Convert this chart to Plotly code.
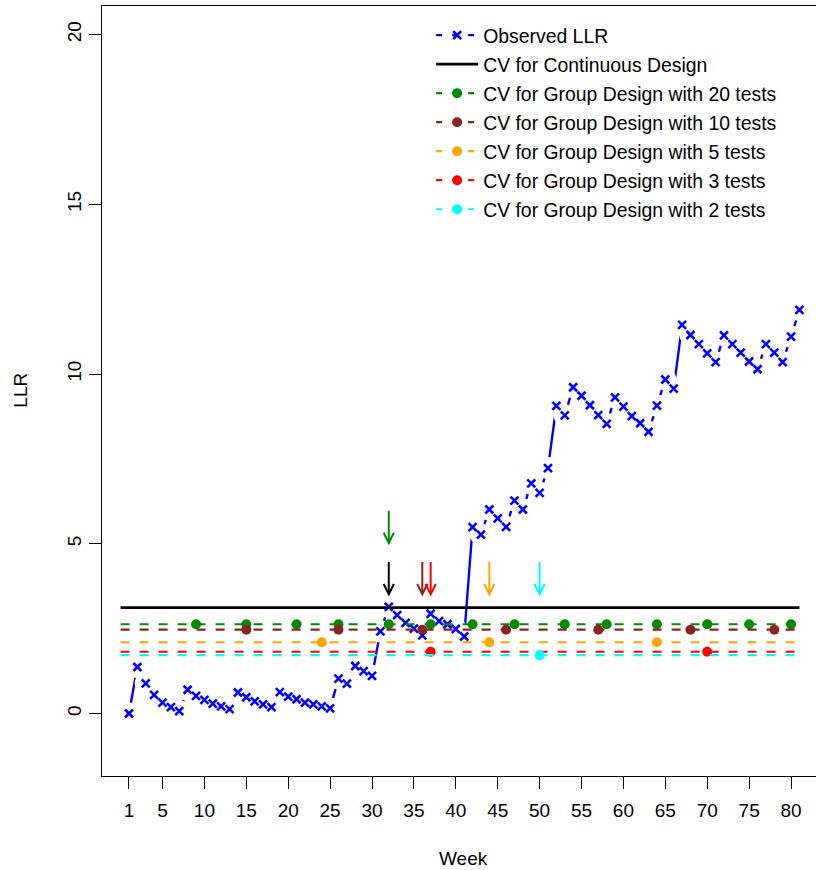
import plotly.graph_objects as go

weeks = list(range(1, 82))
llr = [0.00, 1.37, 0.89, 0.55, 0.32, 0.19, 0.07, 0.70, 0.52, 0.40,
       0.29, 0.21, 0.13, 0.62, 0.48, 0.36, 0.27, 0.19, 0.63, 0.50,
       0.42, 0.32, 0.27, 0.21, 0.15, 1.03, 0.88, 1.40, 1.25, 1.11,
       2.42, 3.14, 2.90, 2.67, 2.50, 2.30, 2.94, 2.72, 2.63, 2.49,
       2.27, 5.49, 5.27, 6.01, 5.75, 5.50, 6.27, 6.01, 6.78, 6.50,
       7.23, 9.06, 8.78, 9.61, 9.36, 9.08, 8.79, 8.53, 9.31, 9.04,
       8.76, 8.55, 8.30, 9.07, 9.84, 9.57, 11.45, 11.15, 10.88, 10.61,
       10.35, 11.14, 10.88, 10.63, 10.37, 10.14, 10.88, 10.63, 10.35, 11.10,
       11.89]

cv_span = [0, 81]
cv_continuous = 3.12

group_names = ["CV for Group Design with 20 tests", "CV for Group Design with 10 tests",
               "CV for Group Design with 5 tests", "CV for Group Design with 3 tests",
               "CV for Group Design with 2 tests"]
group_cv = [2.63, 2.47, 2.10, 1.82, 1.72]
group_weeks = [
    [9, 15, 21, 26, 32, 37, 42, 47, 53, 58, 64, 70, 75, 80],
    [15, 26, 36, 46, 57, 68, 78],
    [24, 44, 64],
    [37, 70],
    [50],
]
group_colors = ["#008B00", "#8B2323", "#FFA500", "#FF0000", "#00FFFF"]

# arrows: (week, tail, tip, color)
arrow_weeks = [32, 32, 36, 37, 44, 50]
arrow_tail = [6.02, 4.51, 4.51, 4.51, 4.51, 4.51]
arrow_tip = [4.96, 3.45, 3.45, 3.45, 3.45, 3.45]
arrow_colors = ["#008B00", "#000000", "#8B2323", "#FF0000", "#FFA500", "#00FFFF"]

x_ticks = [1, 5, 10, 15, 20, 25, 30, 35, 40, 45, 50, 55, 60, 65, 70, 75, 80]
y_ticks = [0, 5, 10, 15, 20]

BLUE = "#0000FF"
FONT = "Liberation Sans, Arial, sans-serif"

fig = go.Figure()

# observed LLR: line, white gaps around points (R type="b"), then x markers
fig.add_trace(go.Scatter(x=weeks, y=llr, mode="lines", line=dict(color=BLUE, width=2.4),
                         showlegend=False, hoverinfo="skip"))
fig.add_trace(go.Scatter(x=weeks, y=llr, mode="markers",
                         marker=dict(symbol="circle", size=22, color="white", line=dict(width=0)),
                         showlegend=False, hoverinfo="skip"))
fig.add_trace(go.Scatter(x=weeks, y=llr, mode="markers",
                         marker=dict(symbol="x-thin", size=8, color=BLUE,
                                     line=dict(color=BLUE, width=2.6)),
                         showlegend=False))

# continuous design CV
fig.add_trace(go.Scatter(x=cv_span, y=[cv_continuous] * 2, mode="lines",
                         line=dict(color="black", width=2.6), showlegend=False, hoverinfo="skip"))

# group design CVs
for name, cv, wk, col in zip(group_names, group_cv, group_weeks, group_colors):
    fig.add_trace(go.Scatter(x=cv_span, y=[cv] * 2, mode="lines",
                             line=dict(color=col, width=2.2, dash="9px,10px"),
                             showlegend=False, hoverinfo="skip"))
    fig.add_trace(go.Scatter(x=wk, y=[cv] * len(wk), mode="markers",
                             marker=dict(symbol="circle", size=10, color=col),
                             showlegend=False))

# legend entries
fig.add_trace(go.Scatter(x=[None], y=[None], mode="lines+markers", name="Observed LLR",
                         line=dict(color=BLUE, width=2.4, dash="6px,10px"),
                         marker=dict(symbol="x-thin", size=8, color=BLUE,
                                     line=dict(color=BLUE, width=2.6)),
                         legendgroup="a"))
fig.add_trace(go.Scatter(x=[None], y=[None], mode="lines", name="CV for Continuous Design",
                         line=dict(color="black", width=2.6), legendgroup="b"))
for i, (name, col) in enumerate(zip(group_names, group_colors)):
    fig.add_trace(go.Scatter(x=[None], y=[None], mode="lines+markers", name=name,
                             line=dict(color=col, width=2.2, dash="6px,10px"),
                             marker=dict(symbol="circle", size=10, color=col),
                             legendgroup="g%d" % i))

for wk, t0, t1, col in zip(arrow_weeks, arrow_tail, arrow_tip, arrow_colors):
    fig.add_annotation(x=wk, y=t1, ax=wk, ay=t0, xref="x", yref="y", axref="x", ayref="y",
                       text="", showarrow=True, arrowhead=5, arrowsize=1.0, arrowwidth=2,
                       arrowcolor=col, standoff=0, startstandoff=0)

fig.add_annotation(text="LLR", x=-0.1142, y=0.501, xref="paper", yref="paper",
                   textangle=-90, showarrow=False, xanchor="center", yanchor="middle",
                   font=dict(size=19, color="black", family=FONT))
fig.add_annotation(text="Week", x=0.507, y=-0.107, xref="paper", yref="paper",
                   showarrow=False, xanchor="center", yanchor="middle",
                   font=dict(size=19, color="black", family=FONT))

fig.update_layout(
    width=816, height=870,
    margin=dict(l=102, r=0, t=6, b=94, pad=0),
    paper_bgcolor="white", plot_bgcolor="white",
    font=dict(family=FONT, size=19, color="black"),
    showlegend=True,
    legend=dict(x=0.461, y=0.987, xanchor="left", yanchor="top",
                bgcolor="rgba(0,0,0,0)", borderwidth=0, tracegroupgap=0.8,
                itemwidth=42, font=dict(size=19.4, family=FONT, color="black")),
    xaxis=dict(range=[-2.22, 82.98], tickvals=x_ticks,
               showgrid=False, zeroline=False, showline=True, linecolor="black", linewidth=1.3,
               mirror=True, ticks="outside", ticklen=12, tickwidth=1.3, tickcolor="black",
               ticklabelstandoff=5, tickfont=dict(size=19, family=FONT)),
    yaxis=dict(range=[-1.84, 20.84], tickvals=y_ticks,
               showgrid=False, zeroline=False, showline=True, linecolor="black", linewidth=1.3,
               mirror=False, ticks="outside", ticklen=12, tickwidth=1.3, tickcolor="black",
               tickangle=-90, tickfont=dict(size=19, family=FONT)),
)

fig.write_html("out.html")
